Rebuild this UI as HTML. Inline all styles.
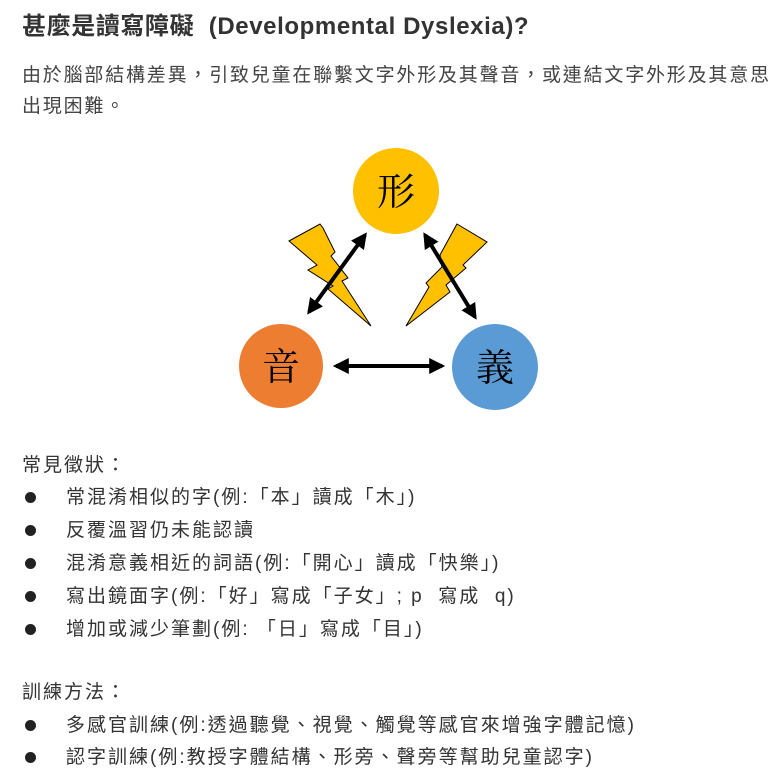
<!DOCTYPE html>
<html><head><meta charset="utf-8"><style>
body{margin:0;background:#fff;width:782px;height:781px;overflow:hidden;position:relative;font-family:"Liberation Sans","Noto Sans CJK TC",sans-serif;color:#333}
.t{position:absolute;left:22px;white-space:nowrap;line-height:1}
.l{left:66px;font-size:19px;letter-spacing:2px}
.b{position:absolute;left:25px;width:11px;height:11px;border-radius:50%;background:#222}
</style></head><body>
<div class="t" style="top:15px;font-size:24px;font-weight:bold;color:#333;letter-spacing:0.6px">甚麼是讀寫障礙&nbsp; (Developmental Dyslexia)?</div>
<div class="t" style="top:66px;font-size:19px;color:#444;letter-spacing:1.8px">由於腦部結構差異，引致兒童在聯繫文字外形及其聲音，或連結文字外形及其意思</div>
<div class="t" style="top:97px;font-size:19px;color:#444;letter-spacing:1.8px">出現困難。</div>
<svg style="position:absolute;left:0;top:0" width="782" height="440">
<defs><marker id="a" viewBox="0 0 10 10" refX="8" refY="5" markerWidth="4" markerHeight="4" orient="auto-start-reverse"><path d="M0,0L10,5L0,10z" fill="#000"/></marker></defs>
<circle cx="396" cy="191" r="43" fill="#FFC000"/>
<circle cx="281" cy="366" r="42" fill="#ED7D31"/>
<circle cx="495" cy="367" r="43" fill="#5B9BD5"/>
<text x="396" y="205" font-size="38" text-anchor="middle" font-family="Noto Serif CJK SC,serif" fill="#000">形</text>
<text x="281" y="380" font-size="38" text-anchor="middle" font-family="Noto Serif CJK SC,serif" fill="#000">音</text>
<text x="495" y="381" font-size="38" text-anchor="middle" font-family="Noto Serif CJK SC,serif" fill="#000">義</text>
<polygon points="289,241 320,224 323,228 335,252 331,256 348,278 342,281 371,326 328,289 333,286 308,270 317,265" fill="#FFC000" stroke="#000" stroke-width="1"/>
<polygon points="457,224 487,242 463,265 466,268 446,285 450,292 406,326 429,287 426,283 442,267 440,255" fill="#FFC000" stroke="#000" stroke-width="1"/>
<g stroke="#000" stroke-width="4" marker-start="url(#a)" marker-end="url(#a)">
<line x1="365" y1="235" x2="309" y2="312"/>
<line x1="425" y1="235" x2="475" y2="317"/>
<line x1="336" y1="366" x2="442" y2="366"/>
</g>
</svg>
<div class="t" style="top:456px;font-size:19px;letter-spacing:2px">常見徵狀：</div>
<div class="b" style="top:492px"></div><div class="t l" style="top:488px">常混淆相似的字(例:「本」讀成「木」)</div>
<div class="b" style="top:525px"></div><div class="t l" style="top:521px">反覆溫習仍未能認讀</div>
<div class="b" style="top:558px"></div><div class="t l" style="top:554px">混淆意義相近的詞語(例:「開心」讀成「快樂」)</div>
<div class="b" style="top:591px"></div><div class="t l" style="top:587px">寫出鏡面字(例:「好」寫成「子女」; p&nbsp; 寫成&nbsp; q)</div>
<div class="b" style="top:624px"></div><div class="t l" style="top:620px">增加或減少筆劃(例: 「日」寫成「目」)</div>
<div class="t" style="top:683px;font-size:19px;letter-spacing:2px">訓練方法：</div>
<div class="b" style="top:720px"></div><div class="t l" style="top:716px">多感官訓練(例:透過聽覺、視覺、觸覺等感官來增強字體記憶)</div>
<div class="b" style="top:752px"></div><div class="t l" style="top:748px">認字訓練(例:教授字體結構、形旁、聲旁等幫助兒童認字)</div>
</body></html>
